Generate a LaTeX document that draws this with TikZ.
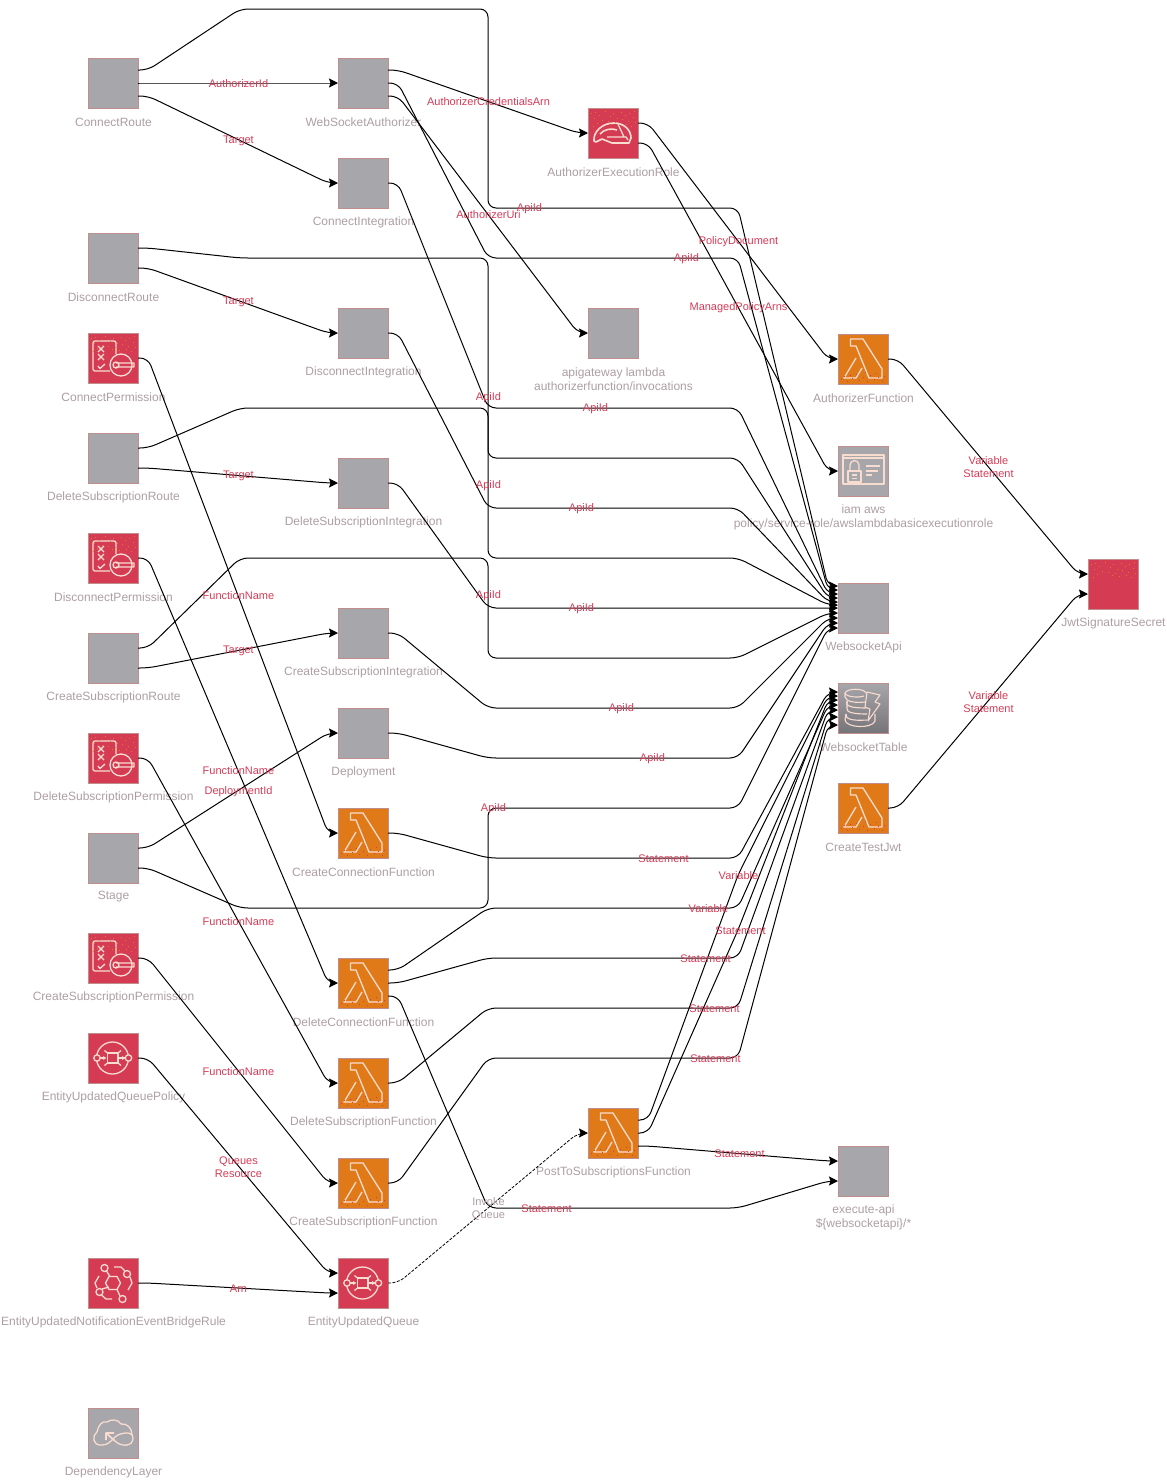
\documentclass[tikz,border=0pt]{standalone}
\usepackage{fontspec}
\setmainfont{Liberation Sans}
\usetikzlibrary{arrows.meta}
\definecolor{gbox}{HTML}{A7A6AB}
\definecolor{gborder}{HTML}{C08E8C}
\definecolor{rbox}{HTML}{D63B54}
\definecolor{obox}{HTML}{E07A18}
\definecolor{txtgrey}{HTML}{AD9EA2}
\definecolor{txtred}{HTML}{D63B56}
\definecolor{iconc}{HTML}{F9DCD0}
\tikzset{
  x=1pt,y=-1pt,
  box/.style={minimum size=50pt,inner sep=0pt,outer sep=0pt,line width=1pt,draw=gborder},
  greybox/.style={box,fill=gbox},
  redbox/.style={box,fill=rbox},
  orangebox/.style={box,fill=obox},
  tablebox/.style={box,top color=gbox,middle color=gbox,bottom color=gbox!70!black},
  nodelabel/.style={text=txtgrey,align=center,inner sep=0pt,font=\fontsize{12}{14}\selectfont},
  edgelabel/.style={text=txtred,align=center,inner sep=0pt,font=\fontsize{11}{13}\selectfont},
  dashlabel/.style={text=txtgrey,align=center,inner sep=0pt,font=\fontsize{11}{13}\selectfont},
  edgeline/.style={draw=black,line width=1pt,rounded corners=8pt,-{Stealth[length=9pt,width=9pt,inset=1.5pt]}},
  dashline/.style={edgeline,line width=.8pt,dash pattern=on 3pt off 1.5pt},
  ic/.style={draw=iconc,line width=1.3pt,line join=round,fill=none},
}
% node: name, x, y, style, label
\newcommand\nd[5]{\node[#4] (#1) at (#2,#3) {};
  \node[nodelabel,anchor=center] (#1-t) at (#2+0.5,#3+39) {#5};}
% two-line node label
\newcommand\ndtwo[6]{\node[#4] (#1) at (#2,#3) {};
  \node[nodelabel,anchor=center] (#1-t) at (#2+0.5,#3+46) {#5\\#6};}
% connector: src, src offset (up), tgt, tgt offset (up), waypoints
\newcommand\conn[5]{\draw[edgeline] ([yshift=#2pt]#1.east) -- ++(10,0) #5 -- ([xshift=-10pt,yshift=#4pt]#3.west) -- ([yshift=#4pt]#3.west);}
\newcommand\lab[3]{\node[edgelabel] at (#1+0.5,#2+1) {#3};}
% icons, local coordinates 0..50 from the north-west corner of the node
\newcommand\specksR[1]{\begin{scope}[shift={(#1.north west)}]
  \foreach \a/\b in {3/5,7/4,11/7,17/3,22/8,25/5,29/10,33/4,37/7,41/5,46/3,45/9,6/10,14/12,20/13,27/14,34/11,40/13,47/14,9/15,24/16,31/17,38/16,43/18,5/18}
    \fill[obox] (\a,\b) rectangle +(1,1);
  \end{scope}}
\newcommand\specksO[1]{\begin{scope}[shift={(#1.north west)}]
  \foreach \a/\b in {3/45,6/42,9/47,14/44,18/40,21/46,25/43,29/47,32/41,36/45,40/43,44/47,46/42,12/41,27/38,38/39}
    \fill[rbox] (\a,\b) rectangle +(1,1);
  \end{scope}}
\newcommand\iconLambda[1]{\begin{scope}[shift={(#1.north west)}]
  \draw[ic] (12.5,5) -- (25,5) -- (44,35) -- (44,44) -- (31,44) -- (18,12) -- (12.5,12) -- cycle;
  \draw[ic] (18,24) -- (6,44) -- (18,44) -- (24,34);
  \end{scope}\specksO{#1}}
\newcommand\iconPerm[1]{\begin{scope}[shift={(#1.north west)}]
  \draw[ic,rounded corners=2pt] (28,21) -- (28,8) -- (5,8) -- (5,38) -- (22,38);
  \draw[ic] (10,13) -- (16,19) (16,13) -- (10,19) (10,21) -- (16,27) (16,21) -- (10,27) (10,33) -- (12,35.5) -- (17,31);
  \draw[ic] (33,32) circle (11);
  \draw[ic] (28,30) -- (46,30) -- (46,34) -- (28,34) (28,32) circle (3);
  \end{scope}\specksR{#1}}
\newcommand\iconQueue[1]{\begin{scope}[shift={(#1.north west)}]
  \draw[ic] (24.5,25) circle (16);
  \draw[ic,fill=rbox] (9,25) circle (3.2) (40.5,25) circle (3.2);
  \draw[ic] (19.5,20) rectangle (30,30);
  \draw[ic] (12,25) -- (17,25) (31,25) -- (37,25);
  \draw[ic] (16.5,17.5) -- (19.5,20) (33,17.5) -- (30,20) (16.5,32.5) -- (19.5,30) (33,32.5) -- (30,30);
  \fill[iconc] (15,23) -- (18.5,25) -- (15,27) -- cycle (34,23) -- (37.5,25) -- (34,27) -- cycle;
  \end{scope}}
\newcommand\iconRule[1]{\begin{scope}[shift={(#1.north west)}]
  \draw[ic] (17.5,25) -- (21,18.5) -- (29,18.5) -- (32.5,25) -- (29,31.5) -- (21,31.5) -- cycle;
  \draw[ic] (16.5,10) circle (3.5) (39,16) circle (3.5) (11.5,34) circle (3.5) (34.5,41) circle (3.5);
  \draw[ic] (18.5,13) -- (22,18.5) (26,9) -- (33,9) -- (37,13) (42,19) -- (44,25) -- (40,32) (32,38) -- (29,31.5)
    (24,41) -- (18,41) -- (13.5,37) (9,30) -- (7,25) -- (11,18) (14,31) -- (21,29);
  \end{scope}}
\newcommand\iconHat[1]{\begin{scope}[shift={(#1.north west)}]
  \draw[ic,line width=1.6pt] (6,33) .. controls (5,24) and (14,15) .. (26,15) .. controls (36,15) and (43,22) .. (43,30) -- (41,35) -- (24,35) -- (14,31) -- (8,34) -- cycle;
  \draw[ic,line width=1.6pt] (12,26) .. controls (16,21) and (24,20) .. (29,22);
  \draw[ic] (19,29) -- (38,29) -- (40,32) (30,16) -- (36,29);
  \end{scope}\specksR{#1}}
\newcommand\iconIam[1]{\begin{scope}[shift={(#1.north west)}]
  \draw[ic] (5,9) rectangle (46,38);
  \draw[ic] (5,12) -- (46,12);
  \draw[ic,fill=gbox] (10,25) rectangle (23,36);
  \draw[ic] (12,25) -- (12,19) arc[start angle=180,end angle=360,radius=4.5] -- (21,25);
  \draw[ic] (14,29) -- (19,29) (14,32.5) -- (19,32.5);
  \draw[ic] (28,20) -- (42,20) (28,25) -- (40,25) (28,29) -- (34,29);
  \end{scope}}
\newcommand\iconTable[1]{\begin{scope}[shift={(#1.north west)}]
  \draw[ic,line width=1.1pt] (7,10) .. controls (9,5) and (26,5) .. (28,10);
  \draw[ic,line width=1.1pt] (7,10) .. controls (8,14) and (20,15) .. (26,13);
  \draw[ic,line width=1.1pt] (7,14) .. controls (8,19) and (18,20) .. (27,19);
  \draw[ic,line width=1.1pt] (9,18) .. controls (7,23) and (13,25) .. (28,25);
  \draw[ic,line width=1.1pt] (9,25) .. controls (8,29) and (14,31) .. (29,31);
  \draw[ic,line width=1.1pt] (8,31) .. controls (7,36) and (14,38) .. (29,37);
  \draw[ic,line width=1.1pt] (7,37) .. controls (8,45) and (34,46) .. (37,38) -- (37,31);
  \draw[ic,line width=1.1pt] (7,10) -- (7,14) (9,18) -- (9,25) (8,31) -- (7,37);
  \draw[ic,line width=1.1pt] (29,9) -- (42,12) -- (37,19) -- (42,21) -- (30,38) -- (32,26) -- (27,24) -- cycle;
  \end{scope}}
\newcommand\iconLayer[1]{\begin{scope}[shift={(#1.north west)}]
  \draw[ic] (9,24) .. controls (11,16) and (14,13) .. (19,14) .. controls (23,11) and (30,11) .. (33,16) .. controls (39,15) and (44,20) .. (44,27);
  \draw[ic] (9,24) .. controls (4,27) and (4,38) .. (14,37) .. controls (20,37) and (23,33) .. (27,29) .. controls (31,25) and (45,22) .. (45,30) .. controls (45,39) and (33,39) .. (27,33);
  \draw[ic,line width=1.7pt] (27,33) -- (18,25) (18,32) -- (18,25) -- (26,25);
  \end{scope}}
\begin{document}
\begin{tikzpicture}
\useasboundingbox (0,0) rectangle (1167,1481);
% nodes
\nd{cr}{113}{83}{greybox}{ConnectRoute}
\nd{wsa}{363}{83}{greybox}{WebSocketAuthorizer}
\nd{ci}{363}{183}{greybox}{ConnectIntegration}
\nd{role}{613}{133}{redbox}{AuthorizerExecutionRole}
\nd{dr}{113}{258}{greybox}{DisconnectRoute}
\nd{di}{363}{333}{greybox}{DisconnectIntegration}
\ndtwo{gw}{613}{333}{greybox}{apigateway lambda}{authorizerfunction/invocations}
\nd{cp}{113}{358}{redbox}{ConnectPermission}
\nd{dsr}{113}{458}{greybox}{DeleteSubscriptionRoute}
\nd{dsi}{363}{483}{greybox}{DeleteSubscriptionIntegration}
\nd{af}{863}{359}{orangebox}{AuthorizerFunction}
\ndtwo{iam}{863}{471}{greybox}{iam aws}{policy/service-role/awslambdabasicexecutionrole}
\nd{dp}{113}{558}{redbox}{DisconnectPermission}
\nd{csr}{113}{658}{greybox}{CreateSubscriptionRoute}
\nd{csi}{363}{633}{greybox}{CreateSubscriptionIntegration}
\nd{api}{863}{608}{greybox}{WebsocketApi}
\nd{sec}{1113}{584}{redbox}{JwtSignatureSecret}
\nd{dep}{363}{733}{greybox}{Deployment}
\nd{dsp}{113}{758}{redbox}{DeleteSubscriptionPermission}
\nd{tab}{863}{708}{tablebox}{WebsocketTable}
\nd{ctj}{863}{808}{orangebox}{CreateTestJwt}
\nd{st}{113}{858}{greybox}{Stage}
\nd{ccf}{363}{833}{orangebox}{CreateConnectionFunction}
\nd{csp}{113}{958}{redbox}{CreateSubscriptionPermission}
\nd{dcf}{363}{983}{orangebox}{DeleteConnectionFunction}
\nd{qp}{113}{1058}{redbox}{EntityUpdatedQueuePolicy}
\nd{dsf}{363}{1083}{orangebox}{DeleteSubscriptionFunction}
\nd{csf}{363}{1183}{orangebox}{CreateSubscriptionFunction}
\nd{post}{613}{1133}{orangebox}{PostToSubscriptionsFunction}
\ndtwo{ex}{863}{1171}{greybox}{execute-api}{\$\{websocketapi\}/*}
\nd{rule}{113}{1283}{redbox}{EntityUpdatedNotificationEventBridgeRule}
\nd{q}{363}{1283}{redbox}{EntityUpdatedQueue}
\nd{lay}{113}{1433}{greybox}{DependencyLayer}
% icons
\iconHat{role}
\iconPerm{cp}\iconPerm{dp}\iconPerm{dsp}\iconPerm{csp}
\iconLambda{af}\iconLambda{ctj}\iconLambda{ccf}\iconLambda{dcf}\iconLambda{dsf}\iconLambda{csf}\iconLambda{post}
\iconQueue{qp}\iconQueue{q}
\iconRule{rule}
\iconIam{iam}
\iconTable{tab}
\iconLayer{lay}
\specksR{sec}
% connectors to the api
\conn{cr}{13}{api}{22}{-- (240,9) -- (488,9) -- (488,208) -- (738,208)}
\conn{wsa}{0}{api}{18}{-- (488,258) -- (738,258)}
\conn{ci}{0}{api}{14}{-- (488,408) -- (738,408)}
\conn{dr}{10}{api}{10}{-- (240,258) -- (488,258) -- (488,458) -- (738,458)}
\conn{di}{0}{api}{6}{-- (488,508) -- (738,508)}
\conn{dsr}{10}{api}{3}{-- (240,408) -- (488,408) -- (488,558) -- (738,558)}
\conn{dsi}{0}{api}{0}{-- (488,608) -- (738,608)}
\conn{csr}{10}{api}{-5}{-- (240,558) -- (488,558) -- (488,658) -- (738,658)}
\conn{csi}{0}{api}{-10}{-- (488,708) -- (738,708)}
\conn{dep}{0}{api}{-15}{-- (488,758) -- (738,758)}
\conn{st}{-10}{api}{-20}{-- (240,908) -- (488,908) -- (488,808) -- (738,808)}
% simple links
\conn{cr}{0}{wsa}{0}{}
\conn{cr}{-13}{ci}{0}{}
\conn{wsa}{13}{role}{0}{}
\conn{wsa}{-13}{gw}{0}{}
\conn{role}{10}{af}{0}{}
\conn{role}{-10}{iam}{0}{}
\conn{dr}{-10}{di}{0}{}
\conn{dsr}{-10}{dsi}{0}{}
\conn{csr}{-10}{csi}{0}{}
\conn{st}{10}{dep}{0}{}
\conn{cp}{0}{ccf}{0}{}
\conn{dp}{0}{dcf}{0}{}
\conn{dsp}{0}{dsf}{0}{}
\conn{csp}{0}{csf}{0}{}
\conn{qp}{0}{q}{10}{}
\conn{rule}{0}{q}{-10}{}
\conn{af}{0}{sec}{10}{}
\conn{ctj}{0}{sec}{-10}{}
% into the table
\conn{ccf}{0}{tab}{16}{-- (488,858) -- (738,858)}
\conn{dcf}{13}{tab}{3}{-- (488,908) -- (738,908)}
\conn{dcf}{0}{tab}{-2}{-- (488,958) -- (738,958)}
\conn{dsf}{0}{tab}{-9}{-- (488,1008) -- (738,1008)}
\conn{csf}{0}{tab}{-17}{-- (488,1058) -- (738,1058)}
\conn{post}{13}{tab}{12}{-- (738,875)}
\conn{post}{0}{tab}{8}{-- (738,930)}
% execute-api
\conn{dcf}{-13}{ex}{-10}{-- (488,1208) -- (738,1208)}
\conn{post}{-13}{ex}{10}{}
% dashed invoke
\draw[dashline] (q.east) -- ++(10,0) -- ([xshift=-10pt]post.west) -- (post.west);
% connector labels
\lab{238}{83}{AuthorizerId}
\lab{238}{140}{Target}
\lab{238}{301}{Target}
\lab{238}{475}{Target}
\lab{238}{650}{Target}
\lab{488}{101}{AuthorizerCredentialsArn}
\lab{488}{214}{AuthorizerUri}
\lab{529}{208}{ApiId}
\lab{686}{258}{ApiId}
\lab{488}{397}{ApiId}
\lab{595}{408}{ApiId}
\lab{488}{485}{ApiId}
\lab{581}{508}{ApiId}
\lab{488}{595}{ApiId}
\lab{581}{608}{ApiId}
\lab{621}{708}{ApiId}
\lab{652}{758}{ApiId}
\lab{493}{808}{ApiId}
\lab{738}{241}{PolicyDocument}
\lab{738}{307}{ManagedPolicyArns}
\lab{988}{466}{Variable\\Statement}
\lab{988}{701}{Variable\\Statement}
\lab{238}{595}{FunctionName}
\lab{238}{770}{FunctionName}
\lab{238}{921}{FunctionName}
\lab{238}{1071}{FunctionName}
\lab{238}{791}{DeploymentId}
\lab{238}{1166}{Queues\\Resource}
\lab{238}{1288}{Arn}
\lab{663}{858}{Statement}
\lab{738}{875}{Variable}
\lab{708}{908}{Variable}
\lab{740}{930}{Statement}
\lab{705}{958}{Statement}
\lab{714}{1008}{Statement}
\lab{715}{1058}{Statement}
\lab{739}{1153}{Statement}
\lab{546}{1208}{Statement}
\node[dashlabel] at (488.5,1209) {Invoke\\Queue};
\end{tikzpicture}
\end{document}
